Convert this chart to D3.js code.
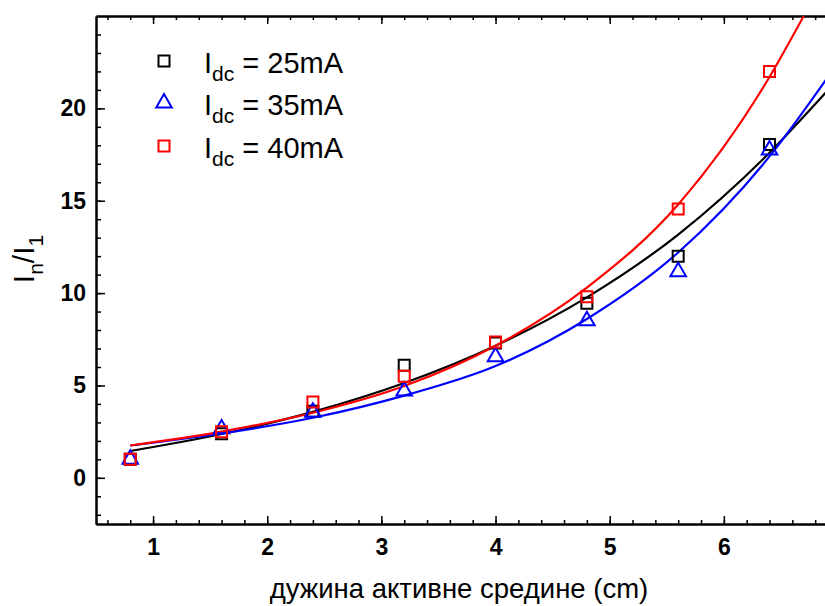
<!DOCTYPE html>
<html>
<head>
<meta charset="utf-8">
<script src="https://cdn.jsdelivr.net/npm/d3@7/dist/d3.min.js"></script>
<style>
  html, body { margin: 0; padding: 0; background: #fff; }
  svg { display: block; font-family: "Liberation Sans", Arial, sans-serif; }
</style>
</head>
<body>
<svg id="chart" width="825" height="606"></svg>
<script>
// Active medium length (cm)
const lengths = [0.8, 1.6, 2.4, 3.2, 4.0, 4.8, 5.6, 6.4];

// Measured ratio I_n / I_1 for each DC current
const ratio25 = [1.0, 2.38, 3.6, 6.1, 7.3, 9.45, 12.0, 18.05];
const ratio35 = [1.0, 2.65, 3.55, 4.7, 6.55, 8.5, 11.15, 17.75];
const ratio40 = [1.0, 2.5, 4.1, 5.5, 7.35, 9.8, 14.55, 22.0];

// Exponential fit curves, sampled positions (x) and fitted values (y)
const fitX25 = [0.8, 1.6, 2.4, 3.2, 4.0, 4.8, 5.6, 6.4, 6.9];
const fitY25 = [1.45, 2.37, 3.57, 5.13, 7.15, 9.77, 13.17, 17.6, 20.9];
const fitX35 = [0.8, 1.6, 2.4, 3.2, 4.0, 4.8, 5.6, 6.4, 6.9];
const fitY35 = [1.75, 2.4, 3.25, 4.45, 6.05, 8.6, 12.2, 17.4, 21.6];
const fitX40 = [0.8, 1.6, 2.4, 3.2, 4.0, 4.8, 5.6, 6.4, 6.7];
const fitY40 = [1.75, 2.5, 3.52, 4.97, 7.15, 10.3, 14.8, 21.7, 25.0];

const legendLabels = ["25mA", "35mA", "40mA"];
const seriesColors = ["#000000", "#0000ff", "#ff0000"];

const xTicks = [1, 2, 3, 4, 5, 6, 7];
const xTickLabels = [1, 2, 3, 4, 5, 6];
const xMinorTicks = d3.range(0.6, 7.01, 0.2).map(v => +v.toFixed(1));
const yTicks = [0, 5, 10, 15, 20];
const yMinorTicks = d3.range(-2, 25, 1);

const svg = d3.select("#chart");
const plot = { left: 96, right: 838, top: 16, bottom: 524 };

const x = d3.scaleLinear().domain([0.5, 7]).range([plot.left, plot.right]);
const y = d3.scaleLinear().domain([-2.5, 25]).range([plot.bottom, plot.top]);

svg.append("defs").append("clipPath").attr("id", "plotClip")
  .append("rect")
  .attr("x", plot.left).attr("y", plot.top)
  .attr("width", plot.right - plot.left).attr("height", plot.bottom - plot.top);

// ---- axes ----
function styleAxis(g) {
  g.selectAll(".domain").attr("stroke", "#000").attr("stroke-width", 2);
  g.selectAll(".tick line").attr("stroke", "#000").attr("stroke-width", 1.5);
}

// bottom: minor ticks, major ticks, labels
svg.append("g").attr("transform", `translate(0,${plot.bottom})`)
  .call(d3.axisBottom(x).tickValues(xMinorTicks).tickSize(-4).tickSizeOuter(0).tickFormat(""))
  .call(styleAxis);
svg.append("g").attr("transform", `translate(0,${plot.bottom})`)
  .call(d3.axisBottom(x).tickValues(xTicks).tickSize(-8).tickSizeOuter(0).tickFormat(""))
  .call(styleAxis);
const gxb = svg.append("g").attr("transform", `translate(0,${plot.bottom})`)
  .call(d3.axisBottom(x).tickValues(xTickLabels).tickSize(0).tickPadding(15).tickFormat(d3.format("d")));
gxb.select(".domain").remove();
gxb.selectAll(".tick text").attr("font-size", 23).attr("font-weight", "bold").attr("fill", "#000");

// top mirror ticks
svg.append("g").attr("transform", `translate(0,${plot.top})`)
  .call(d3.axisTop(x).tickValues(xMinorTicks).tickSize(-4).tickSizeOuter(0).tickFormat(""))
  .call(styleAxis);
svg.append("g").attr("transform", `translate(0,${plot.top})`)
  .call(d3.axisTop(x).tickValues(xTicks).tickSize(-8).tickSizeOuter(0).tickFormat(""))
  .call(styleAxis);

// left: minor + major
svg.append("g").attr("transform", `translate(${plot.left},0)`)
  .call(d3.axisLeft(y).tickValues(yMinorTicks).tickSize(-5).tickSizeOuter(0).tickFormat(""))
  .call(styleAxis);
const gyl = svg.append("g").attr("transform", `translate(${plot.left},0)`)
  .call(d3.axisLeft(y).tickValues(yTicks).tickSize(-9).tickSizeOuter(0).tickPadding(10).tickFormat(d3.format("d")))
  .call(styleAxis);
gyl.selectAll(".tick text").attr("font-size", 23).attr("font-weight", "bold").attr("fill", "#000");

// ---- fit curves ----
const line = d3.line().x(d => x(d[0])).y(d => y(d[1])).curve(d3.curveMonotoneX);
const fits = [
  d3.zip(fitX25, fitY25),
  d3.zip(fitX35, fitY35),
  d3.zip(fitX40, fitY40)
];
const curves = svg.append("g").attr("clip-path", "url(#plotClip)");
fits.forEach((pts, i) => {
  curves.append("path").datum(pts)
    .attr("d", line)
    .attr("fill", "none")
    .attr("stroke", seriesColors[i])
    .attr("stroke-width", 2.2);
});

// ---- markers ----
const squareSym = d3.symbol().type(d3.symbolSquare).size(121);
const triSym = d3.symbol().type(d3.symbolTriangle).size(105);
const shapes = [squareSym, triSym, squareSym];
const series = [ratio25, ratio35, ratio40];

const markers = svg.append("g");
series.forEach((vals, i) => {
  markers.selectAll(null).data(d3.zip(lengths, vals)).join("path")
    .attr("transform", d => `translate(${x(d[0])},${y(d[1])})`)
    .attr("d", shapes[i]())
    .attr("fill", "none")
    .attr("stroke", seriesColors[i])
    .attr("stroke-width", 2);
});

// ---- legend ----
const legend = svg.append("g");
const legendY = [61, 103, 146];
legendLabels.forEach((lab, i) => {
  legend.append("path")
    .attr("transform", `translate(164,${legendY[i]})`)
    .attr("d", shapes[i]())
    .attr("fill", "none")
    .attr("stroke", seriesColors[i])
    .attr("stroke-width", 2);
  const t = legend.append("text")
    .attr("x", 204).attr("y", legendY[i] + 12)
    .attr("font-size", 29).attr("fill", "#000");
  t.append("tspan").text("I");
  t.append("tspan").attr("dy", 8).attr("font-size", 21).text("dc");
  t.append("tspan").attr("dy", -8).text(" = " + lab);
});

// ---- axis titles ----
svg.append("text")
  .attr("x", 459).attr("y", 598)
  .attr("text-anchor", "middle")
  .attr("font-size", 27.5).attr("fill", "#000")
  .text("дужина активне средине (cm)");

const yt = svg.append("text")
  .attr("transform", "translate(34,259) rotate(-90)")
  .attr("text-anchor", "middle")
  .attr("font-size", 30).attr("fill", "#000");
yt.append("tspan").text("I");
yt.append("tspan").attr("dy", 9).attr("font-size", 21).text("n");
yt.append("tspan").attr("dy", -9).text("/I");
yt.append("tspan").attr("dy", 9).attr("font-size", 21).text("1");
</script>
</body>
</html>
